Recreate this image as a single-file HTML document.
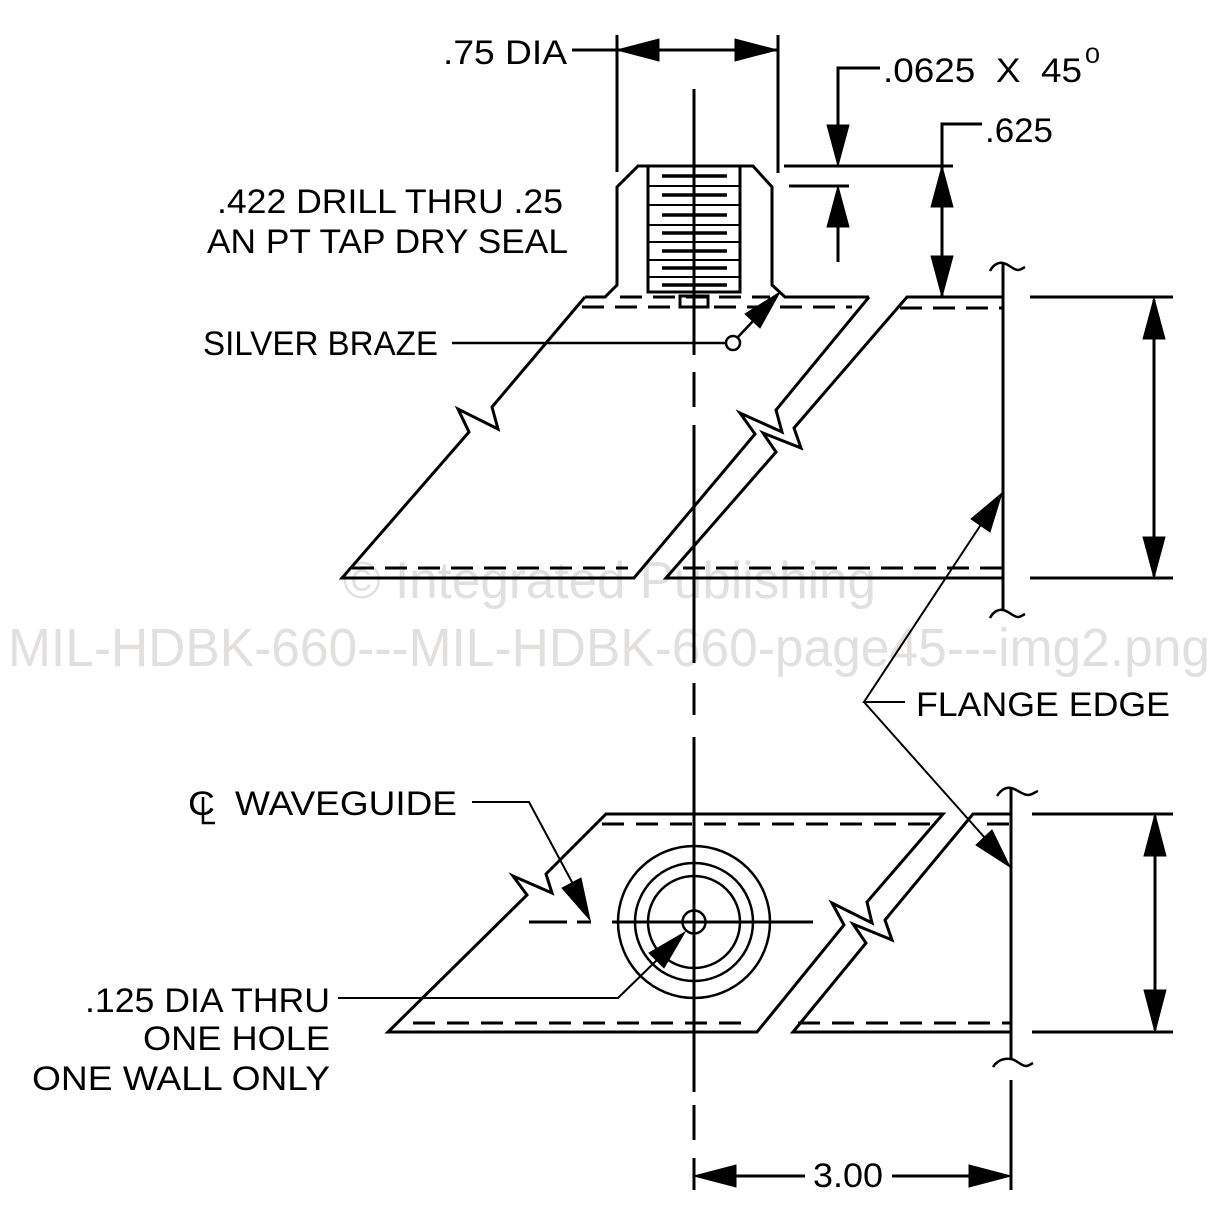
<!DOCTYPE html>
<html><head><meta charset="utf-8"><style>
html,body{margin:0;padding:0;background:#fff;}
svg{display:block;}
text{font-family:"Liberation Sans",sans-serif;fill:#000;}
.wm{fill:#e2dfdf;}
</style></head><body>
<svg width="1218" height="1227" viewBox="0 0 1218 1227" xmlns="http://www.w3.org/2000/svg">
<!-- watermark -->
<text class="wm" x="343" y="598" font-size="52" textLength="533" lengthAdjust="spacingAndGlyphs">© Integrated Publishing</text>
<text class="wm" x="8" y="666" font-size="54" textLength="1202" lengthAdjust="spacingAndGlyphs">MIL-HDBK-660---MIL-HDBK-660-page45---img2.png</text>

<g fill="none" stroke="#000" stroke-width="3" stroke-linejoin="miter">
<!-- vertical centerline -->
<path d="M694,89V355M694,372V407M694,425V663M694,683V715M694,737V1092M694,1105V1140M694,1158V1190"/>
<!-- .75 DIA dimension -->
<path d="M617,35V172M778,35V173M572,50H777"/>
<!-- fitting -->
<path d="M585,297H605L617,285V187L638,166H753L772,187V285L785,297H869"/>
<rect x="648" y="166" width="92" height="126" stroke-width="3"/>
<path stroke-width="2" d="M648,186H740M648,205H740M648,225H740M648,242H740M648,260H740M648,277H740"/>
<path stroke-width="3.5" d="M662,176H727M662,195H727M662,215H727M662,233H727M662,251H727M662,268H727M662,285H727"/>
<rect x="680" y="296" width="28" height="11"/>
<path stroke-dasharray="22 11" d="M620,297H770"/>
<path stroke-dasharray="22 11" d="M582,307H852"/>
<!-- upper-left plate -->
<path d="M869,297L776,410L782,432L740,413L755,434L634,578H342L469,432L458,409L498,429L492,407L585,297"/>
<path stroke-dasharray="22 11" d="M352,568H628"/>
<!-- upper-right plate -->
<path d="M1003,297H907L794,428L801,448L763,433L776,452L666,578H1003"/>
<path stroke-dasharray="22 11" d="M900,308H1003M683,568H1003"/>
<!-- upper flange -->
<path d="M1003,263V610"/>
<path stroke-width="2.5" d="M990,271C993,265 998,262 1003,263C1009,264 1013,270 1018,270C1021,270 1023,268 1025,267"/>
<path stroke-width="2.5" d="M990,618C993,612 998,609 1003,610C1009,611 1013,617 1018,617C1021,617 1023,615 1025,614"/>
<!-- .0625 and .625 dims -->
<path d="M784,166H953M789,186H849"/>
<path d="M880,68H838V130M838,225V262"/>
<path d="M982,124H942V297"/>
<!-- right dims -->
<path d="M1030,297H1173M1030,578H1173M1154,300V576"/>
<path d="M1032,814H1173M1032,1032H1173M1155,816V1030"/>
<!-- silver braze leader -->
<path stroke-width="2.5" d="M452,343H726M738,337L754,320"/>
<circle cx="733" cy="343" r="7" stroke-width="2.5"/>
<!-- flange edge leaders -->
<path stroke-width="2" d="M905,702H864L982,523M864,702L985,838"/>
<!-- lower-left plate -->
<path d="M606,814H943L867,902L872,923L832,903L844,925L757,1032H388L527,895L513,876L552,893L546,874Z"/>
<path stroke-dasharray="22 12" d="M602,824H932M413,1023H752"/>
<!-- lower-right plate -->
<path d="M1011,814H973L885,920L892,940L853,924L866,943L793,1032H1011"/>
<path stroke-dasharray="22 12" d="M987,824H1011M798,1023H1011"/>
<!-- lower flange -->
<path d="M1011,788V1058"/>
<path stroke-width="2.5" d="M997,796C1001,790 1006,787 1011,788C1017,789 1022,795 1028,795C1032,795 1035,792 1038,791"/>
<path stroke-width="2.5" d="M993,1067C997,1061 1003,1058 1011,1059C1017,1060 1021,1066 1026,1066C1029,1066 1031,1064 1033,1063"/>
<path d="M1011,1080V1190"/>
<!-- circles -->
<circle cx="694" cy="922" r="76" stroke-width="2.5"/>
<circle cx="694" cy="922" r="59" stroke-width="2.5"/>
<circle cx="694" cy="922" r="46" stroke-width="2.5"/>
<circle cx="694" cy="922" r="11.5" stroke-width="2.5"/>
<!-- horizontal centerline lower -->
<path d="M529,922H567M577,922H591M612,922H813"/>
<!-- CL waveguide leader -->
<path stroke-width="2" d="M472,802H529L573,884"/>
<!-- .125 leader -->
<path stroke-width="2" d="M338,998H618L658,959"/>
<!-- 3.00 dim -->
<path d="M694,1160V1190M735,1176H805M892,1176H970"/>
<!-- CL symbol L -->
<path stroke-width="2.5" d="M203,797V823H215"/>
</g>

<!-- arrowheads -->
<g fill="#000" stroke="#000" stroke-width="1">
<polygon points="617,50 659,39 659,61"/>
<polygon points="777,50 735,39 735,61"/>
<polygon points="838,166 827,125 849,125"/>
<polygon points="838,186 827,227 849,227"/>
<polygon points="942,166 931,207 953,207"/>
<polygon points="942,297 931,256 953,256"/>
<polygon points="1154,298 1143,339 1165,339"/>
<polygon points="1154,578 1143,537 1165,537"/>
<polygon points="1155,814 1144,856 1166,856"/>
<polygon points="1155,1032 1144,990 1166,990"/>
<polygon points="694,1176 736,1165 736,1187"/>
<polygon points="1011,1176 969,1165 969,1187"/>
<polygon points="780,292 760,328 745,314"/>
<polygon points="1002,493 990,532 971,519"/>
<polygon points="1010,867 976,845 992,830"/>
<polygon points="590,920 562,888 581,878"/>
<polygon points="685,932 664,968 649,953"/>
</g>

<!-- labels -->
<text x="443" y="64" font-size="34" textLength="124" lengthAdjust="spacingAndGlyphs">.75 DIA</text>
<text x="883" y="82" font-size="34" textLength="199" lengthAdjust="spacingAndGlyphs" xml:space="preserve">.0625  X  45</text>
<text x="1085" y="63" font-size="22" textLength="15" lengthAdjust="spacingAndGlyphs">0</text>
<text x="985" y="142" font-size="34" textLength="68" lengthAdjust="spacingAndGlyphs">.625</text>
<text x="217" y="213" font-size="34" textLength="346" lengthAdjust="spacingAndGlyphs">.422 DRILL THRU .25</text>
<text x="207" y="253" font-size="34" textLength="361" lengthAdjust="spacingAndGlyphs">AN PT TAP DRY SEAL</text>
<text x="203" y="355" font-size="34" textLength="235" lengthAdjust="spacingAndGlyphs">SILVER BRAZE</text>
<text x="916" y="716" font-size="34" textLength="254" lengthAdjust="spacingAndGlyphs">FLANGE EDGE</text>
<text x="188" y="815" font-size="34" textLength="27" lengthAdjust="spacingAndGlyphs">C</text>
<text x="235" y="815" font-size="34" textLength="222" lengthAdjust="spacingAndGlyphs">WAVEGUIDE</text>
<text x="85" y="1012" font-size="34" textLength="245" lengthAdjust="spacingAndGlyphs">.125 DIA THRU</text>
<text x="143" y="1050" font-size="34" textLength="187" lengthAdjust="spacingAndGlyphs">ONE HOLE</text>
<text x="32" y="1090" font-size="34" textLength="298" lengthAdjust="spacingAndGlyphs">ONE WALL ONLY</text>
<text x="813" y="1187" font-size="34" textLength="70" lengthAdjust="spacingAndGlyphs">3.00</text>
</svg>
</body></html>
